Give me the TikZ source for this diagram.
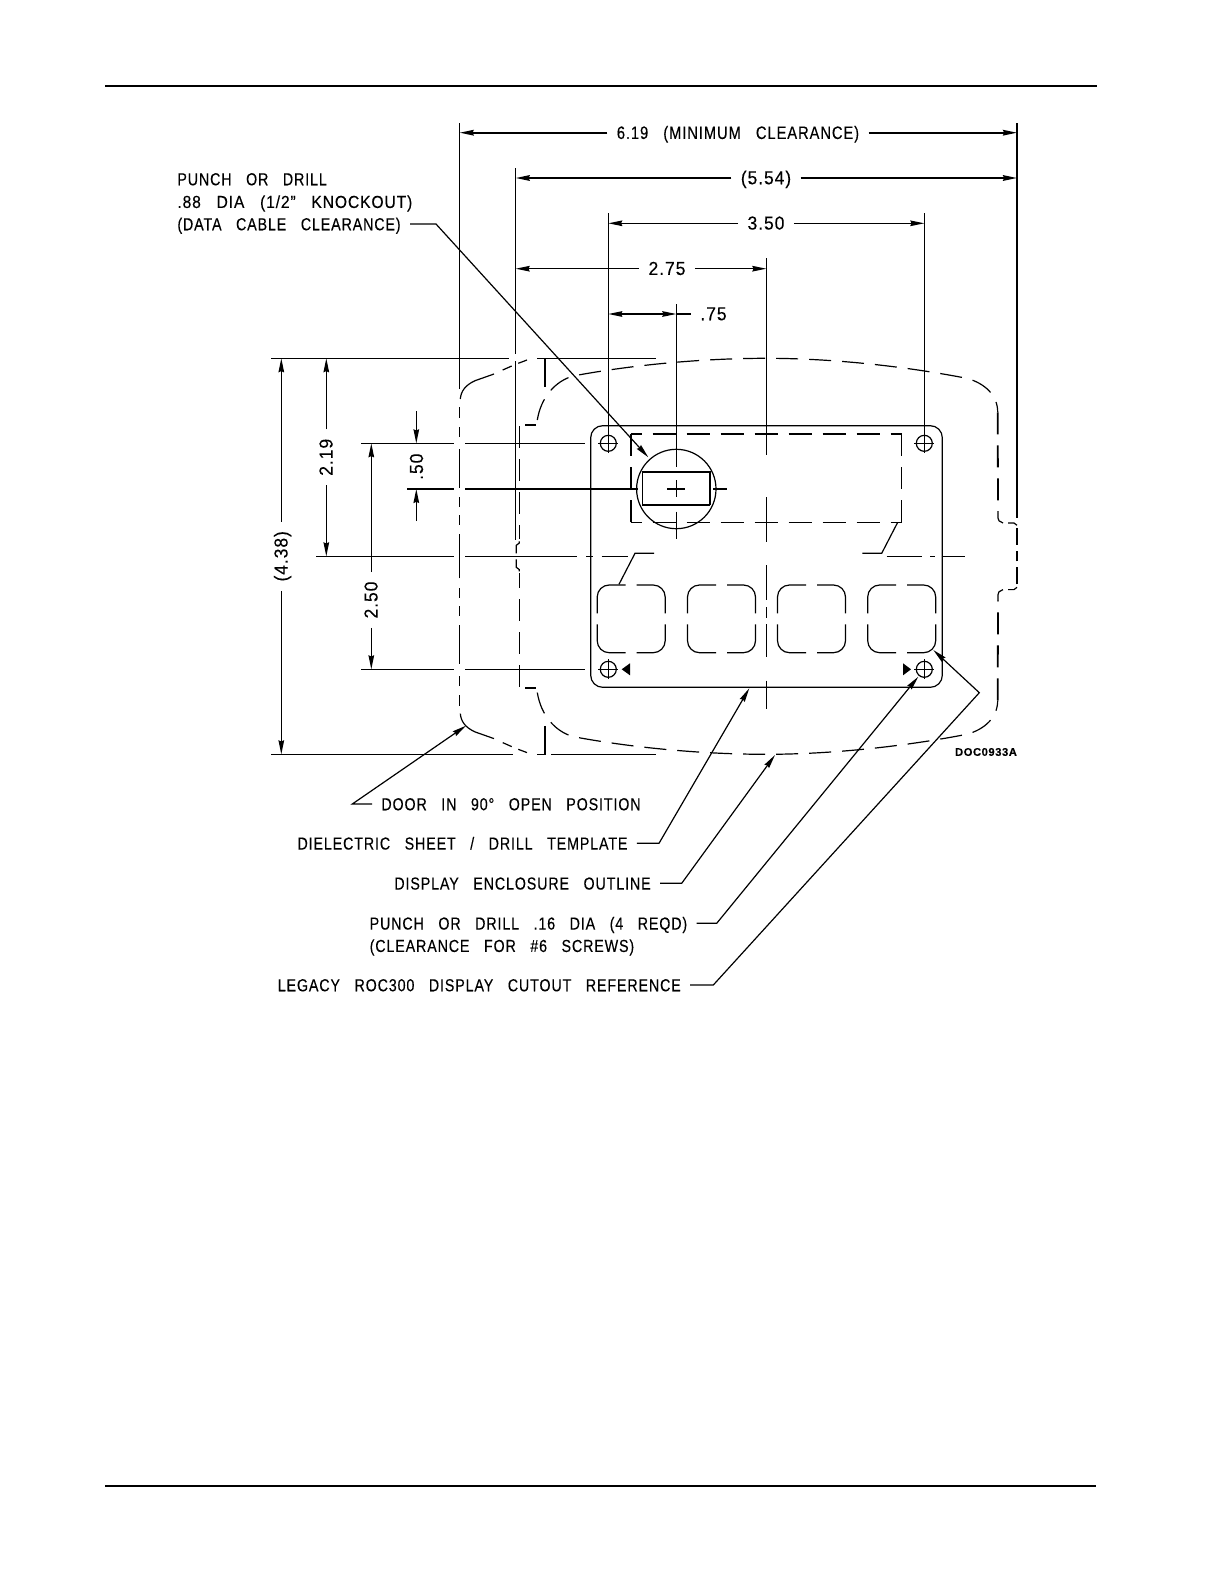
\documentclass[tikz,border=0pt]{standalone}
\usepackage{fontspec}
\setmainfont[WordSpace=3,LetterSpace=5,FakeStretch=0.82,FakeBold=0.2]{Liberation Sans}
\usetikzlibrary{arrows.meta}
\begin{document}
\begin{tikzpicture}[x=0.5pt,y=-0.5pt,line cap=butt,
    thin line/.style={line width=0.6pt},
    heavy line/.style={line width=0.9pt},
    dim line/.style={thin line,-{Stealth[length=7pt,width=2.8pt,inset=0.6pt]}},
    leader line/.style={thin line,-{Stealth[length=7pt,width=2.8pt,inset=0.6pt]}},
    long dash/.style={thin line,dash pattern=on 11pt off 5.5pt},
    label text/.style={font=\fontsize{8.7pt}{10pt}\selectfont,text height=6.25pt,text depth=0pt,inner ysep=0pt,inner xsep=4.5pt},
    dim text/.style={label text,font=\fontsize{9.4pt}{10pt}\selectfont\addfontfeature{FakeStretch=0.93}}]
  \useasboundingbox (0,0) rectangle (1225,1585);
  % page rules
  \draw[line width=1pt] (105,85.7) -- (1097,85.7);
  \draw[thin line] (105,1486) -- (1096,1486);

  % extension lines
  \draw[thin line] (459.7,123.3) -- (459.7,389);
  \draw[thin line] (515.7,168.3) -- (515.7,354);
  \draw[thin line] (515.7,361) -- (515.7,540);
  \draw[thin line] (608.3,213.3) -- (608.3,453.3);
  \draw[thin line] (924.3,213.3) -- (924.3,453.3);
  \draw[thin line] (676.3,304) -- (676.3,466.7);
  \draw[thin line] (676.3,480) -- (676.3,497);
  \draw[thin line] (676.3,511.7) -- (676.3,539);
  \draw[heavy line] (1017,123) -- (1017,518);
  \foreach \a/\b in {258/455,497.3/542.3,565/600,607/618,624/657.3,680.7/709.3}
    \draw[thin line] (766.3,\a) -- (766.3,\b);

  % horizontal extension lines
  \foreach \a/\b in {271/509,546/656}
    \draw[thin line] (\a,358.3) -- (\b,358.3);
  \foreach \a/\b in {271/513,551/656}
    \draw[thin line] (\a,754.3) -- (\b,754.3);
  \foreach \a/\b in {361/454,465/585}
    \draw[thin line] (\a,443.3) -- (\b,443.3);
  \foreach \a/\b in {361/454,465/585}
    \draw[thin line] (\a,669.3) -- (\b,669.3);
  \foreach \a/\b in {316/454,465/577,586/593,601.7/628,886.7/921.7,930/935,941.7/965}
    \draw[thin line] (\a,556.3) -- (\b,556.3);
  \foreach \a/\b in {407/454,465/638.3,713.3/726.7}
    \draw[heavy line] (\a,489) -- (\b,489);

  % door and enclosure, one half and its mirror image
  \foreach \s in {1,-1} {
    \begin{scope}[shift={(0,556.3)},yscale=\s]
      \draw[thin line] (545,-169.6) -- (545,-198) -- (536.7,-198);
      \draw[thin line] (527,-196.3) -- (518.3,-193);
      \draw[thin line] (511.7,-190.3) -- (502.7,-186.3);
      \draw[thin line] (494,-182.3) -- (475,-175.6) .. controls (465,-171) and (461,-165) .. (460.3,-157.3);
      \foreach \a/\b in {-149.3/-138.3,-129.3/-119.3,-107.3/-68.3,-59.3/-49.3,-41.3/-31.3,-22/0}
        \draw[thin line] (459.7,\a) -- (459.7,\b);
      \draw[long dash] (537.3,-136.3) .. controls (541,-159) and (555,-175) .. (573,-180.3)
        .. controls (630,-191) and (700,-198) .. (766.3,-198)
        .. controls (832,-198) and (905,-190) .. (966.7,-178)
        .. controls (985,-173) and (997.7,-161) .. (997.7,-144);
      \draw[long dash,heavy line] (997.7,-144) -- (998,-44);
      \draw[thin line] (998,-44) -- (998,-38.3) -- (999,-35.5) -- (1003,-33.3);
      \draw[thin line] (1008,-33.3) -- (1014,-33.3) -- (1017,-31);
      \draw[heavy line] (1017,-28) -- (1017,-11);
      \draw[heavy line] (1017,-5) -- (1017,0);
      \draw[long dash] (519.3,-130.3) -- (519.3,-17);
      \draw[thin line] (519.3,-15) -- (519.3,-13.3) -- (516.3,-11) -- (516.3,-3);
      \draw[heavy line] (525,-131.6) -- (535.7,-131.6);
    \end{scope}
  }

  % dielectric sheet
  \draw[thin line,rounded corners=6pt] (590.7,425.7) rectangle (942.3,687.3);
  \draw[heavy line,dash pattern=on 11.5pt off 5.5pt,dash phase=6pt] (630.7,434) -- (901.7,434);
  \draw[heavy line,dash pattern=on 11pt off 5.5pt] (630.7,434) -- (630.7,522.3);
  \draw[thin line,dash pattern=on 11pt off 5.5pt] (901.7,434) -- (901.7,522.3);
  \draw[thin line,dash pattern=on 11.5pt off 5.5pt,dash phase=6pt] (630.7,522.3) -- (901.7,522.3);

  % knockout with data cable
  \node[circle,draw,thin line,minimum size=39.7pt,inner sep=0pt] (knockout) at (676.3,489) {};
  \draw[thin line] (642.3,505) -- (642.3,471.7);
  \draw[heavy line] (642.3,471.7) -- (710,471.7) -- (710,505);
  \draw[thin line] (710,505) -- (642.3,505);
  \draw[thin line] (667,489) -- (685,489);

  % screw holes
  \foreach \px/\py/\hname in {608.3/443.3/holeA,924.3/443.3/holeB,608.3/669.3/holeC,924.3/669.3/holeD} {
    \node[circle,draw,thin line,minimum size=8pt,inner sep=0pt] (\hname) at (\px,\py) {};
    \draw[thin line] (\px-10,\py) -- (\px+10,\py);
    \draw[thin line] (\px,\py-10) -- (\px,\py+10);
  }
  \fill (621.7,669.3) -- (630,663.3) -- (630,675.3) -- cycle;
  \fill (911,669.3) -- (903,663.3) -- (903,675.3) -- cycle;

  % legacy cutouts
  \foreach \cx in {631.2,721.5,811.5,901.7} {
    \draw[thin line,rounded corners=6pt] (\cx-5.5,585) -- (\cx-34,585) -- (\cx-34,613.3);
    \draw[thin line,rounded corners=6pt] (\cx+5.5,585) -- (\cx+34,585) -- (\cx+34,613.3);
    \draw[thin line,rounded corners=6pt] (\cx-5.5,652.7) -- (\cx-34,652.7) -- (\cx-34,624.3);
    \draw[thin line,rounded corners=6pt] (\cx+5.5,652.7) -- (\cx+34,652.7) -- (\cx+34,624.3);
  }
  \draw[thin line] (619,584.3) -- (635,553.3) -- (654,553.3);
  \draw[thin line] (897.7,522.3) -- (881.7,553.3) -- (862.3,553.3);

  % horizontal dimensions
  \node[label text,font=\fontsize{9pt}{10pt}\selectfont] (dimMin) at (738,132.7) {6.19 (MINIMUM CLEARANCE)};
  \coordinate (minL) at (459.7,132.7);
  \coordinate (minR) at (1017,132.7);
  \draw[dim line,heavy line] (dimMin.west) -- (minL);
  \draw[dim line,heavy line] (dimMin.east) -- (minR);
  \node[dim text] (dimEncl) at (766,178) {(5.54)};
  \coordinate (enclL) at (515.7,178);
  \coordinate (enclR) at (1017,178);
  \draw[dim line,heavy line] (dimEncl.west) -- (enclL);
  \draw[dim line,heavy line] (dimEncl.east) -- (enclR);
  \node[dim text] (dimHoles) at (766,223.3) {3.50};
  \coordinate (holesL) at (608.3,223.3);
  \coordinate (holesR) at (924.3,223.3);
  \draw[dim line] (dimHoles.west) -- (holesL);
  \draw[dim line] (dimHoles.east) -- (holesR);
  \node[dim text] (dimMid) at (667,268.7) {2.75};
  \coordinate (midL) at (515.7,268.7);
  \coordinate (midR) at (766.3,268.7);
  \draw[dim line] (dimMid.west) -- (midL);
  \draw[dim line] (dimMid.east) -- (midR);
  \node[dim text,anchor=west] (dimKo) at (691,314) {.75};
  \coordinate (koL) at (608.3,314);
  \coordinate (koR) at (676.3,314);
  \draw[thin line,-{Stealth[length=7pt,width=2.8pt,inset=0.6pt]}] (642,314) -- (koL);
  \draw[dim line] (642,314) -- (koR);
  \draw[thin line] (koR) -- (dimKo.west);

  % vertical dimensions
  \node[dim text,rotate=90] (dimDoor) at (281.3,556.3) {(4.38)};
  \coordinate (doorT) at (281.3,358.3);
  \coordinate (doorB) at (281.3,754.3);
  \draw[dim line] (dimDoor.east) -- (doorT);
  \draw[dim line] (dimDoor.west) -- (doorB);
  \node[dim text,rotate=90] (dimUpper) at (326.3,457.3) {2.19};
  \coordinate (upperT) at (326.3,358.3);
  \coordinate (upperB) at (326.3,556.3);
  \draw[dim line] (dimUpper.east) -- (upperT);
  \draw[dim line] (dimUpper.west) -- (upperB);
  \node[dim text,rotate=90] (dimRows) at (371.3,600) {2.50};
  \coordinate (rowsT) at (371.3,443.3);
  \coordinate (rowsB) at (371.3,669.3);
  \draw[dim line] (dimRows.east) -- (rowsT);
  \draw[dim line] (dimRows.west) -- (rowsB);
  \node[dim text,rotate=90] (dimKoY) at (416.7,466.7) {.50};
  \coordinate (koYT) at (416.3,443.3);
  \coordinate (koYB) at (416.3,489);
  \draw[dim line] (416.3,411) -- (koYT);
  \draw[dim line] (416.3,521) -- (koYB);

  % callouts
  \node[label text,anchor=west] (punchA) at (168,179) {PUNCH OR DRILL};
  \node[label text,anchor=west,font=\fontsize{8.7pt}{10pt}\selectfont\addfontfeature{FakeStretch=0.9}] (punchB) at (168,201.7) {.88 DIA (1/2" KNOCKOUT)};
  \node[label text,anchor=west] (punchC) at (168,224) {(DATA CABLE CLEARANCE)};
  \coordinate (punchEnd) at (648.3,457.3);
  \draw[leader line] (punchC.east) -- (436,224) -- (punchEnd);

  \node[label text] (door) at (511,804) {DOOR IN 90° OPEN POSITION};
  \coordinate (doorEnd) at (466,725.7);
  \draw[leader line] (door.west) -- (352.3,804) -- (doorEnd);

  \node[label text] (sheet) at (462.5,843.3) {DIELECTRIC SHEET / DRILL TEMPLATE};
  \coordinate (sheetEnd) at (749.3,688.3);
  \draw[leader line] (sheet.east) -- (659,843.3) -- (sheetEnd);

  \node[label text] (outline) at (522.5,883.3) {DISPLAY ENCLOSURE OUTLINE};
  \coordinate (outlineEnd) at (775,755);
  \draw[leader line] (outline.east) -- (681.7,883.3) -- (outlineEnd);

  \node[label text,anchor=west] (screwA) at (360.3,923.3) {PUNCH OR DRILL .16 DIA (4 REQD)};
  \node[label text,anchor=west] (screwB) at (360.3,945.7) {(CLEARANCE FOR \#6 SCREWS)};
  \coordinate (screwEnd) at (918.3,676.7);
  \draw[leader line] (screwA.east) -- (716.7,923.3) -- (screwEnd);

  \node[label text] (legacy) at (479.3,985) {LEGACY ROC300 DISPLAY CUTOUT REFERENCE};
  \coordinate (legacyEnd) at (933.3,650);
  \draw[leader line] (legacy.east) -- (713.3,985) -- (979.3,692.7) -- (legacyEnd);

  \node[font=\fontsize{5.6pt}{7pt}\selectfont\bfseries\addfontfeature{FakeStretch=1},inner sep=0pt] (docref) at (986,752) {DOC0933A};
\end{tikzpicture}
\end{document}
